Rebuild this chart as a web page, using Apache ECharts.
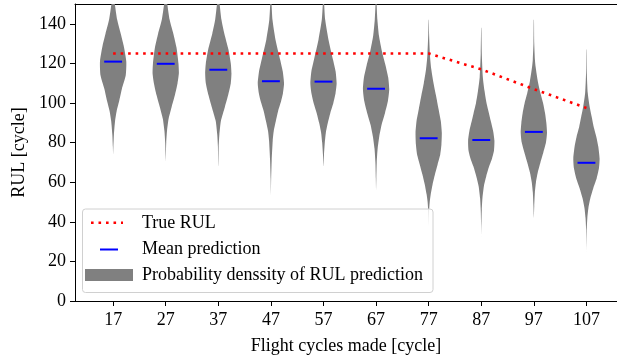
<!DOCTYPE html>
<html>
<head>
<meta charset="utf-8">
<script src="https://cdn.jsdelivr.net/npm/echarts@6/dist/echarts.min.js"></script>
<style>html,body{margin:0;padding:0;background:#fff;}#chart{width:617px;height:360px;}</style>
</head>
<body>
<div id="chart"></div>
<script>
// ---- data ----
const categories = [17, 27, 37, 47, 57, 67, 77, 87, 97, 107];
const trueRUL = [125, 125, 125, 125, 125, 125, 125, 117, 107, 97.5];
const meanPrediction = [120.9, 119.8, 116.8, 111.0, 110.8, 107.2, 82.2, 81.3, 85.4, 69.8];
const yTicks = [0, 20, 40, 60, 80, 100, 120, 140];

// relative density profiles: [RUL value, relative half-width]
const density17 = [[152,0.1],[150,0.13],[142,0.31],[135,0.58],[129,0.8],[121,1.0],[114,0.96],[107,0.66],[101,0.46],[96,0.27],[91,0.15],[84,0.06],[78,0.02],[74,0]];
const density27 = [[152,0.1],[150,0.12],[142,0.3],[135,0.58],[128,0.82],[120,0.97],[115,1.0],[110,0.9],[104,0.7],[98,0.45],[92,0.22],[86,0.1],[80,0.04],[70,0]];
const density37 = [[152,0.08],[150,0.1],[142,0.24],[135,0.46],[127,0.77],[120,0.95],[115,1.0],[110,0.95],[104,0.75],[98,0.5],[91,0.2],[84,0.08],[78,0.03],[68,0]];
const density47 = [[152,0.03],[150,0.05],[142,0.12],[132,0.35],[122,0.7],[116,0.9],[110,1.0],[105,0.92],[101,0.78],[96,0.55],[91,0.38],[86,0.22],[81,0.14],[71,0.06],[62,0.02],[53,0]];
const density57 = [[152,0.03],[150,0.05],[142,0.13],[132,0.38],[122,0.72],[116,0.92],[110,1.0],[105,0.92],[100,0.75],[95,0.52],[90,0.33],[85,0.18],[80,0.1],[74,0.04],[68,0]];
const density67 = [[152,0.03],[150,0.04],[142,0.1],[134,0.22],[126,0.45],[119,0.72],[113,0.92],[107,1.0],[101,0.9],[95,0.68],[89,0.42],[83,0.24],[77,0.12],[70,0.05],[62,0.02],[56,0]];
const density77 = [[142,0.01],[135,0.03],[124,0.1],[117,0.2],[110,0.37],[104,0.55],[97,0.75],[91,0.92],[85,1.0],[79,0.97],[74,0.88],[69,0.68],[64,0.48],[59,0.3],[54,0.16],[50,0.08],[45,0.03],[38,0]];
const density87 = [[138,0.01],[125,0.04],[113,0.12],[106,0.25],[100,0.4],[95,0.58],[91,0.72],[86,0.9],[81,1.0],[76,0.97],[72,0.82],[68,0.6],[63,0.38],[58,0.2],[52,0.09],[46,0.04],[38,0.01],[32,0]];
const density97 = [[142,0.01],[130,0.03],[122,0.08],[118,0.14],[111,0.3],[105,0.5],[100,0.7],[95,0.85],[90,0.95],[85,1.0],[80,0.92],[75,0.72],[70,0.5],[65,0.3],[60,0.16],[55,0.08],[48,0.03],[42,0]];
const density107 = [[127,0.01],[115,0.03],[105,0.1],[98,0.25],[93,0.4],[88,0.55],[83,0.75],[78,0.9],[72,1.0],[67,0.95],[62,0.78],[57,0.52],[52,0.3],[47,0.15],[42,0.07],[35,0.02],[24,0]];
const densities = [density17, density27, density37, density47, density57, density67, density77, density87, density97, density107];

// ---- styling constants ----
const FONT = 'Liberation Serif';
const VIOLIN_HALF = 2.5;   // half of violin width in x units
const MEAN_HALF = 1.7;     // half length of mean marker in x units

const chart = echarts.init(document.getElementById('chart'), null, {renderer: 'canvas'});

const option = {
  animation: false,
  backgroundColor: '#ffffff',
  grid: {left: 75, top: 4, right: 0, bottom: 59, show: false},
  xAxis: [{
    type: 'value', min: 9.75, max: 112.81, position: 'bottom',
    name: 'Flight cycles made [cycle]', nameLocation: 'middle', nameGap: 36,
    nameTextStyle: {fontFamily: FONT, fontSize: 18, color: '#000'},
    axisLine: {show: true, onZero: false, lineStyle: {color: '#000', width: 1}},
    axisTick: {show: true, inside: false, length: 5, customValues: categories, lineStyle: {color: '#000', width: 1}},
    axisLabel: {customValues: categories, fontFamily: FONT, fontSize: 18, color: '#000', margin: 10},
    splitLine: {show: false}
  }, {
    type: 'value', min: 9.75, max: 112.81, position: 'top',
    axisLine: {show: true, onZero: false, lineStyle: {color: '#000', width: 1}},
    axisTick: {show: false}, axisLabel: {show: false}, splitLine: {show: false}
  }],
  yAxis: {
    type: 'value', min: 0, max: 150,
    name: 'RUL [cycle]', nameLocation: 'middle', nameGap: 46,
    nameTextStyle: {fontFamily: FONT, fontSize: 18, color: '#000'},
    axisLine: {show: true, onZero: false, lineStyle: {color: '#000', width: 1}},
    axisTick: {show: true, inside: false, length: 5, customValues: yTicks, lineStyle: {color: '#000', width: 1}},
    axisLabel: {customValues: yTicks, fontFamily: FONT, fontSize: 18, color: '#000', margin: 9},
    splitLine: {show: false}
  },
  series: [
    {
      name: 'Probability denssity of RUL prediction',
      type: 'custom', clip: true, z: 2,
      data: categories.map((c, i) => [c, i]),
      encode: {x: 0},
      renderItem: function (params, api) {
        const i = params.dataIndex;
        const x = categories[i];
        const prof = densities[i];
        const right = prof.map(p => api.coord([x + p[1] * VIOLIN_HALF, p[0]]));
        const left = prof.slice().reverse().filter(p => p[1] > 0).map(p => api.coord([x - p[1] * VIOLIN_HALF, p[0]]));
        return {
          type: 'polygon',
          shape: {points: right.concat(left), smooth: 0.2},
          style: {fill: '#808080', stroke: null}
        };
      }
    },
    {
      name: 'Mean prediction',
      type: 'custom', clip: true, z: 3,
      data: categories.map((c, i) => [c, meanPrediction[i]]),
      encode: {x: 0, y: 1},
      renderItem: function (params, api) {
        const x = api.value(0), m = api.value(1);
        const p1 = api.coord([x - MEAN_HALF, m]);
        const p2 = api.coord([x + MEAN_HALF, m]);
        return {type: 'line', shape: {x1: p1[0], y1: p1[1], x2: p2[0], y2: p2[1]}, style: {stroke: '#0000ff', lineWidth: 2}};
      }
    },
    {
      name: 'True RUL',
      type: 'line', z: 4,
      data: categories.map((c, i) => [c, trueRUL[i]]),
      symbol: 'none',
      lineStyle: {color: '#ff0000', width: 2.6, type: [2.6, 4.9], cap: 'butt'}
    }
  ],
  graphic: [
    {type: 'rect', z: 100, shape: {x: 82.5, y: 209, width: 350.5, height: 83.5, r: 3},
     style: {fill: 'rgba(255,255,255,0.8)', stroke: '#d0d0d0', lineWidth: 1}},
    {type: 'line', z: 101, shape: {x1: 91, y1: 222.7, x2: 123, y2: 222.7},
     style: {stroke: '#ff0000', lineWidth: 2.6, lineDash: [2.6, 4.9]}},
    {type: 'line', z: 101, shape: {x1: 100, y1: 249.5, x2: 118, y2: 249.5},
     style: {stroke: '#0000ff', lineWidth: 2}},
    {type: 'rect', z: 101, shape: {x: 85, y: 269, width: 48, height: 12},
     style: {fill: '#808080'}},
    {type: 'text', z: 101, x: 142, y: 223, style: {text: 'True RUL', font: '18px "Liberation Serif"', fill: '#000', verticalAlign: 'middle'}},
    {type: 'text', z: 101, x: 142, y: 249.5, style: {text: 'Mean prediction', font: '18px "Liberation Serif"', fill: '#000', verticalAlign: 'middle'}},
    {type: 'text', z: 101, x: 142, y: 275.5, style: {text: 'Probability denssity of RUL prediction', font: '18px "Liberation Serif"', fill: '#000', verticalAlign: 'middle'}}
  ]
};
chart.setOption(option);
</script>
</body>
</html>
